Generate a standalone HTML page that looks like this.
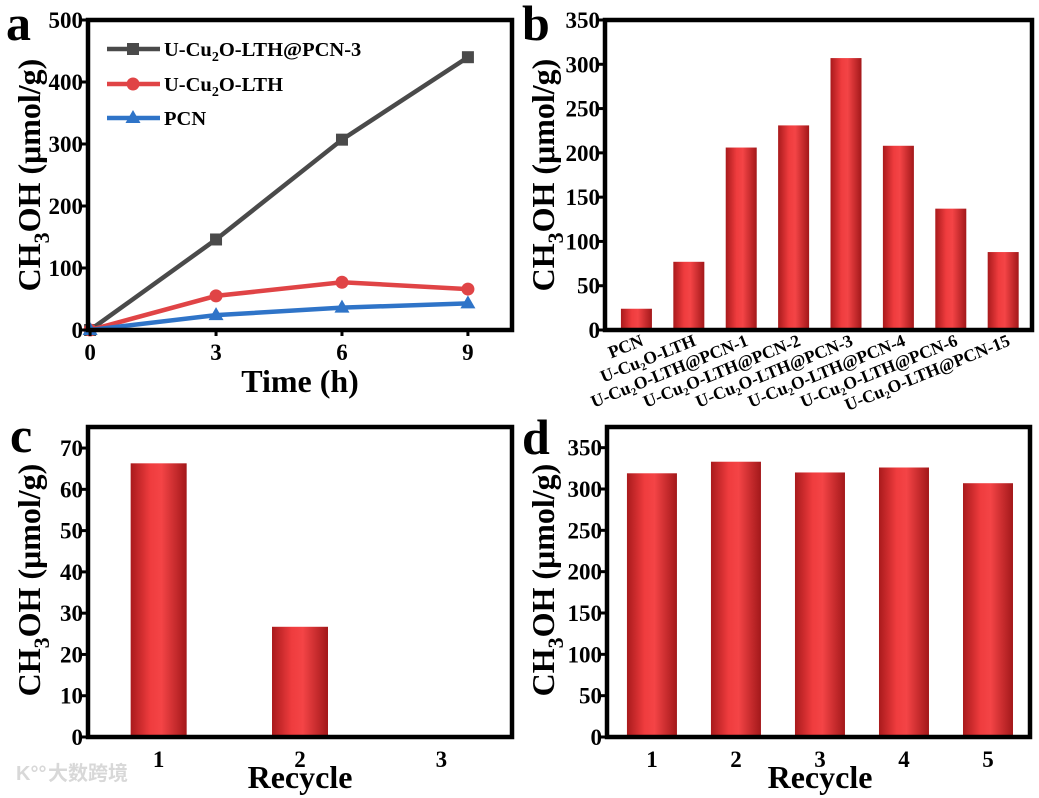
<!DOCTYPE html>
<html><head><meta charset="utf-8">
<style>
html,body{margin:0;padding:0;background:#fff;}
svg{display:block;font-family:"Liberation Serif",serif;font-weight:bold;}
</style></head>
<body>
<svg id="fig" width="1039" height="798" viewBox="0 0 1039 798" xmlns="http://www.w3.org/2000/svg">
<defs>
<linearGradient id="barGrad" x1="0" x2="1" y1="0" y2="0">
<stop offset="0" stop-color="#a91a1c"/>
<stop offset="0.35" stop-color="#ef3c3e"/>
<stop offset="0.55" stop-color="#f44446"/>
<stop offset="1" stop-color="#a3181a"/>
</linearGradient>
</defs>
<text x="48" y="780" font-family="'Liberation Sans','Noto Sans CJK SC',sans-serif" font-size="20" fill="#d8d8d8">大数跨境</text>
<text x="16" y="780" font-family="'Liberation Sans',sans-serif" font-size="20" fill="#d8d8d8">K°°</text>
</svg>
<script>
// Panel a data
const aTimes = [0, 3, 6, 9];
const aSeriesNames = ["U-Cu2O-LTH@PCN-3", "U-Cu2O-LTH", "PCN"];
const aPcn3 = [0, 146, 307, 440];
const aLth = [0, 55, 77, 66];
const aPcn = [0, 24, 36, 43];
const aYTicks = [0, 100, 200, 300, 400, 500];
const aXTicks = [0, 3, 6, 9];
// Panel b data
const bCategories = ["PCN","U-Cu₂O-LTH","U-Cu₂O-LTH@PCN-1","U-Cu₂O-LTH@PCN-2","U-Cu₂O-LTH@PCN-3","U-Cu₂O-LTH@PCN-4","U-Cu₂O-LTH@PCN-6","U-Cu₂O-LTH@PCN-15"];
const bValues = [24, 77, 206, 231, 307, 208, 137, 88];
const bYTicks = [0, 50, 100, 150, 200, 250, 300, 350];
// Panel c data
const cCategories = ["1", "2", "3"];
const cValues = [66.3, 26.7, 0];
const cYTicks = [0, 10, 20, 30, 40, 50, 60, 70];
// Panel d data
const dCategories = ["1", "2", "3", "4", "5"];
const dValues = [319, 333, 320, 326, 307];
const dYTicks = [0, 50, 100, 150, 200, 250, 300, 350];

const NS = "http://www.w3.org/2000/svg";
const svg = document.getElementById("fig");
const TICK_FS = 23;
function mk(tag, attrs, parent) {
  const e = document.createElementNS(NS, tag);
  for (const k in attrs) e.setAttribute(k, attrs[k]);
  (parent || svg).appendChild(e);
  return e;
}
function lin(d0, d1, r0, r1) { return v => r0 + (v - d0) / (d1 - d0) * (r1 - r0); }

function frame(g, L, T, R, B) {
  const f = mk("rect", {x: L, y: T, width: R - L, height: B - T, fill: "none", stroke: "#000", "stroke-width": 4.5}, g);
  
  
}
function yAxis(g, ticks, y, L, fontSize) {
  ticks.forEach(t => {
    const ln = mk("line", {x1: L - 6, x2: L, y1: y(t), y2: y(t), stroke: "#000", "stroke-width": 3}, g);
    
    
    const tx = mk("text", {x: L - 5, y: y(t) + 8, "text-anchor": "end", "font-size": fontSize}, g);
    
    
    tx.textContent = t;
  });
}
function yTitle(g, cx, cy) {
  const t = mk("text", {x: cx, y: cy, "text-anchor": "middle", "font-size": 32, transform: `rotate(-90 ${cx} ${cy})`}, g);
  
  
  t.innerHTML = 'CH<tspan font-size="22" dy="9">3</tspan><tspan dy="-9">OH (μmol/g)</tspan>';
}
function letter(g, ch, x, y) {
  const t = mk("text", {x: x, y: y, "font-size": 50}, g);
  
  
  t.textContent = ch;
}
function bars(g, values, x, y, w, name) {
  values.forEach((v, i) => {
    if (v <= 0) return;
    const r = mk("rect", {x: x(i) - w / 2, y: y(v), width: w, height: y(0) - y(v), fill: "url(#barGrad)"}, g);
    
    
  });
}

// ---------- Panel a ----------
(function () {
  const g = mk("g", {});
  
  
  const L = 88, R = 512, T = 20, B = 330;
  const x = lin(-0.05, 10.05, L, R), y = lin(0, 500, B, T);
  const colors = ["#4a4a4a", "#e04446", "#2f74c8"];
  const series = [aPcn3, aLth, aPcn];
  const markers = ["square", "circle", "triangle"];
  function marker(type, cx, cy, col, parent, nm) {
    let m;
    if (type === "square") m = mk("rect", {x: cx - 6, y: cy - 6, width: 12, height: 12, fill: col}, parent);
    else if (type === "circle") m = mk("circle", {cx: cx, cy: cy, r: 6.5, fill: col}, parent);
    else m = mk("polygon", {points: `${cx},${cy - 8} ${cx - 7.5},${cy + 5} ${cx + 7.5},${cy + 5}`, fill: col}, parent);
    
    
  }
  series.forEach((s, si) => {
    const pts = s.map((v, i) => x(aTimes[i]) + "," + y(v)).join(" ");
    const pl = mk("polyline", {points: pts, fill: "none", stroke: colors[si], "stroke-width": 4.5}, g);
    
    
    s.forEach((v, i) => marker(markers[si], x(aTimes[i]), y(v), colors[si], g, 'series-point'));
  });
  frame(g, L, T, R, B);
  yAxis(g, aYTicks, y, L, TICK_FS);
  aXTicks.forEach(t => {
    const ln = mk("line", {x1: x(t), x2: x(t), y1: B, y2: B + 6, stroke: "#000", "stroke-width": 3}, g);
    
    
    const tx = mk("text", {x: x(t), y: B + 30, "text-anchor": "middle", "font-size": TICK_FS}, g);
    
    
    tx.textContent = t;
  });
  const xt = mk("text", {x: 300, y: 392, "text-anchor": "middle", "font-size": 32}, g);
  
  
  xt.textContent = "Time (h)";
  yTitle(g, 40, 175);
  letter(g, "a", 6, 40);
  // legend
  const legLabels = ['U-Cu<tspan font-size="14" dy="5">2</tspan><tspan dy="-5">O-LTH@PCN-3</tspan>', 'U-Cu<tspan font-size="14" dy="5">2</tspan><tspan dy="-5">O-LTH</tspan>', 'PCN'];
  const legY = [49, 84, 118];
  legLabels.forEach((lab, i) => {
    const lg = mk("g", {}, g);
    
    
    mk("line", {x1: 107, x2: 160, y1: legY[i], y2: legY[i], stroke: colors[i], "stroke-width": 4.5}, lg);
    marker(markers[i], 133, legY[i], colors[i], lg, 'legend-marker');
    const t = mk("text", {x: 164, y: legY[i] + 7, "font-size": 20.5}, lg);
    
    
    t.innerHTML = lab;
  });
})();

// ---------- Panel b ----------
(function () {
  const g = mk("g", {});
  
  
  const L = 605, R = 1032, T = 20, B = 330;
  const x = lin(-0.6, 7.55, L, R), y = lin(0, 350, B, T);
  bars(g, bValues, x, y, 31, 'b');
  frame(g, L, T, R, B);
  yAxis(g, bYTicks, y, L, TICK_FS);
  bCategories.forEach((c, i) => {
    const cx = x(i) + 8, cy = B + 15;
    const t = mk("text", {x: cx, y: cy, "text-anchor": "end", "font-size": 17.5, transform: `rotate(-22 ${cx} ${cy})`}, g);
    
    
    t.textContent = c;
  });
  yTitle(g, 554, 175);
  letter(g, "b", 522, 40);
})();

// ---------- Panel c ----------
(function () {
  const g = mk("g", {});
  
  
  const L = 88, R = 512, T = 427, B = 737;
  const x = lin(-0.5, 2.5, L, R), y = lin(0, 75.1, B, T);
  bars(g, cValues, x, y, 56, 'c');
  frame(g, L, T, R, B);
  yAxis(g, cYTicks, y, L, TICK_FS);
  cCategories.forEach((c, i) => {
    const t = mk("text", {x: x(i), y: B + 30, "text-anchor": "middle", "font-size": TICK_FS}, g);
    
    
    t.textContent = c;
  });
  const xt = mk("text", {x: 300, y: 788, "text-anchor": "middle", "font-size": 32}, g);
  
  
  xt.textContent = "Recycle";
  yTitle(g, 40, 580);
  letter(g, "c", 10, 452);
})();

// ---------- Panel d ----------
(function () {
  const g = mk("g", {});
  
  
  const L = 607, R = 1030, T = 427, B = 737;
  const x = lin(-0.535, 4.5, L, R), y = lin(0, 375, B, T);
  bars(g, dValues, x, y, 50, 'd');
  frame(g, L, T, R, B);
  yAxis(g, dYTicks, y, L, TICK_FS);
  dCategories.forEach((c, i) => {
    const t = mk("text", {x: x(i), y: B + 30, "text-anchor": "middle", "font-size": TICK_FS}, g);
    
    
    t.textContent = c;
  });
  const xt = mk("text", {x: 820, y: 788, "text-anchor": "middle", "font-size": 32}, g);
  
  
  xt.textContent = "Recycle";
  yTitle(g, 554, 580);
  letter(g, "d", 522, 454);
})();
</script>
</body></html>
